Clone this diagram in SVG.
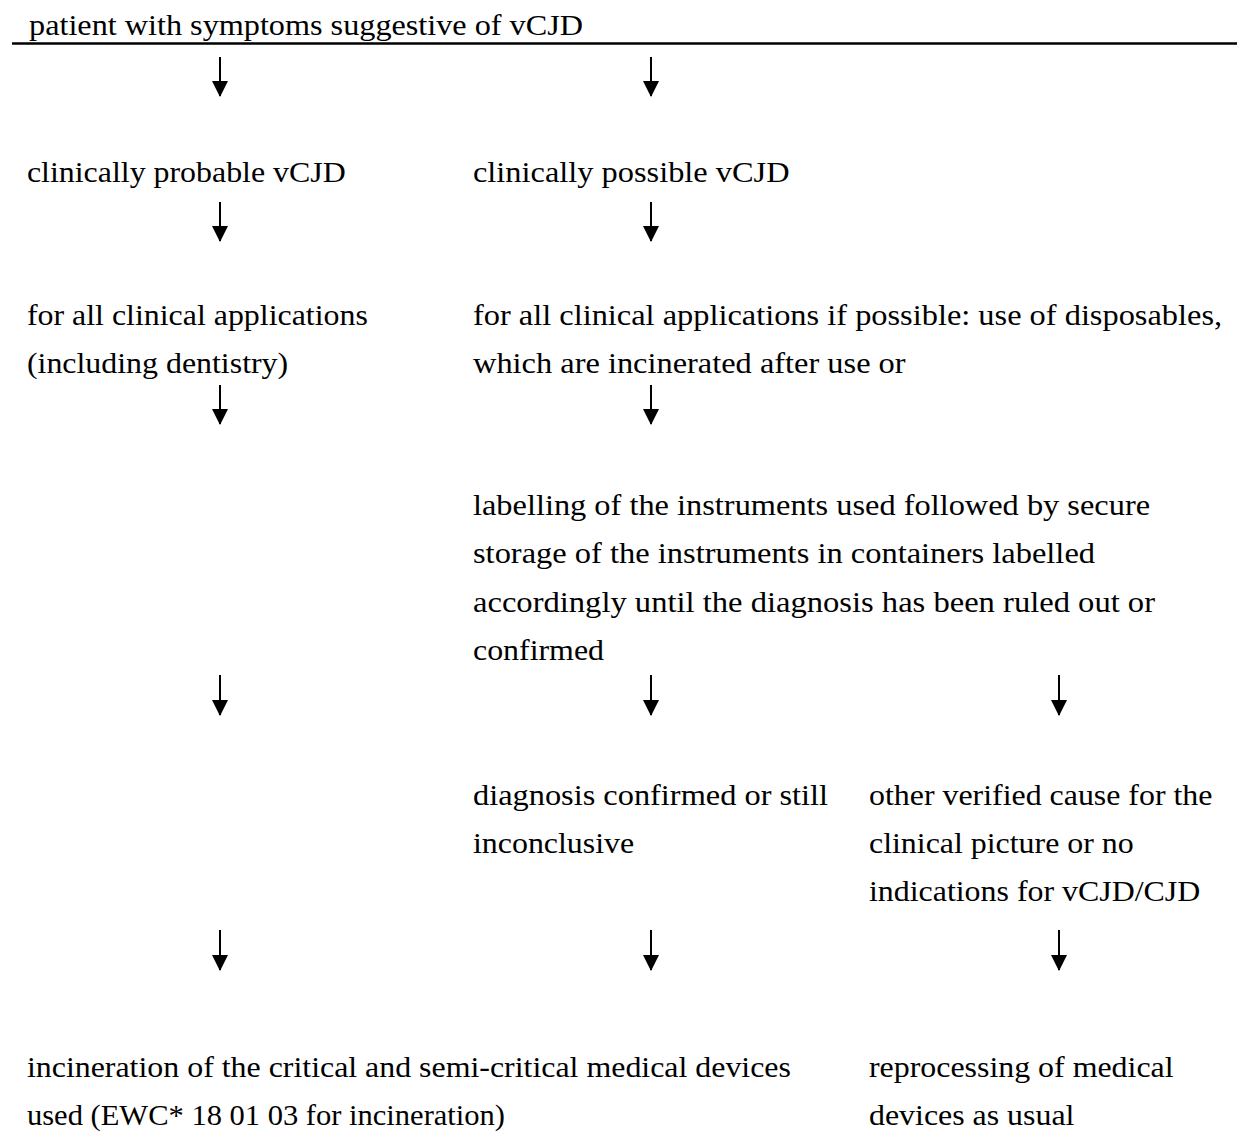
<svg xmlns="http://www.w3.org/2000/svg" width="1237" height="1147" viewBox="0 0 1237 1147">
<defs>
<style>
text{font-family:"Liberation Serif","Times New Roman",serif;font-size:29px;fill:#000;}
.conn line{stroke:#000;stroke-width:2;}
</style>
<marker id="ah" markerWidth="8" markerHeight="8" refX="7.5" refY="4" orient="auto" markerUnits="strokeWidth" viewBox="0 0 8 8">
<path d="M0,0 L8,4 L0,8 z" fill="#000"/>
</marker>
</defs>
<rect width="1237" height="1147" fill="#fff"/>
<line x1="12" y1="43.5" x2="1237" y2="43.5" stroke="#000" stroke-width="2.5"/>
<g id="n-start" transform="scale(1.1 1)">
<text x="26.4" y="35" textLength="503.6" lengthAdjust="spacingAndGlyphs">patient with symptoms suggestive of vCJD</text>
</g>
<g id="n-probable" transform="scale(1.1 1)"><text x="24.5" y="182">clinically probable vCJD</text></g>
<g id="n-possible" transform="scale(1.1 1)"><text x="430" y="182" textLength="287.8" lengthAdjust="spacingAndGlyphs">clinically possible vCJD</text></g>
<g id="n-all-clinical" transform="scale(1.1 1)">
<text x="24.5" y="325">for all clinical applications</text>
<text x="24.5" y="373">(including dentistry)</text>
</g>
<g id="n-disposables" transform="scale(1.1 1)">
<text x="430" y="325" textLength="681" lengthAdjust="spacingAndGlyphs">for all clinical applications if possible: use of disposables,</text>
<text x="430" y="373" textLength="393.3" lengthAdjust="spacingAndGlyphs">which are incinerated after use or</text>
</g>
<g id="n-labelling" transform="scale(1.1 1)">
<text x="430" y="515" textLength="615.5" lengthAdjust="spacingAndGlyphs">labelling of the instruments used followed by secure</text>
<text x="430" y="563" textLength="565.5" lengthAdjust="spacingAndGlyphs">storage of the instruments in containers labelled</text>
<text x="430" y="612" textLength="620" lengthAdjust="spacingAndGlyphs">accordingly until the diagnosis has been ruled out or</text>
<text x="430" y="660">confirmed</text>
</g>
<g id="n-confirmed" transform="scale(1.1 1)">
<text x="430" y="805" textLength="322.8" lengthAdjust="spacingAndGlyphs">diagnosis confirmed or still</text>
<text x="430" y="853">inconclusive</text>
</g>
<g id="n-other" transform="scale(1.1 1)">
<text x="790" y="805">other verified cause for the</text>
<text x="790" y="853">clinical picture or no</text>
<text x="790" y="901">indications for vCJD/CJD</text>
</g>
<g id="n-incineration" transform="scale(1.1 1)">
<text x="24.5" y="1077">incineration of the critical and semi-critical medical devices</text>
<text x="24.5" y="1125" textLength="434.6" lengthAdjust="spacingAndGlyphs">used (EWC* 18 01 03 for incineration)</text>
</g>
<g id="n-reprocessing" transform="scale(1.1 1)">
<text x="790" y="1077">reprocessing of medical</text>
<text x="790" y="1125">devices as usual</text>
</g>
<g id="connectors" class="conn">
<line x1="220" y1="57" x2="220" y2="96" marker-end="url(#ah)"/>
<line x1="651" y1="57" x2="651" y2="96" marker-end="url(#ah)"/>
<line x1="220" y1="202" x2="220" y2="241" marker-end="url(#ah)"/>
<line x1="651" y1="202" x2="651" y2="241" marker-end="url(#ah)"/>
<line x1="220" y1="385" x2="220" y2="424" marker-end="url(#ah)"/>
<line x1="651" y1="385" x2="651" y2="424" marker-end="url(#ah)"/>
<line x1="220" y1="675" x2="220" y2="715" marker-end="url(#ah)"/>
<line x1="651" y1="675" x2="651" y2="715" marker-end="url(#ah)"/>
<line x1="1059" y1="675" x2="1059" y2="715" marker-end="url(#ah)"/>
<line x1="220" y1="930" x2="220" y2="970" marker-end="url(#ah)"/>
<line x1="651" y1="930" x2="651" y2="970" marker-end="url(#ah)"/>
<line x1="1059" y1="930" x2="1059" y2="970" marker-end="url(#ah)"/>
</g>
</svg>
